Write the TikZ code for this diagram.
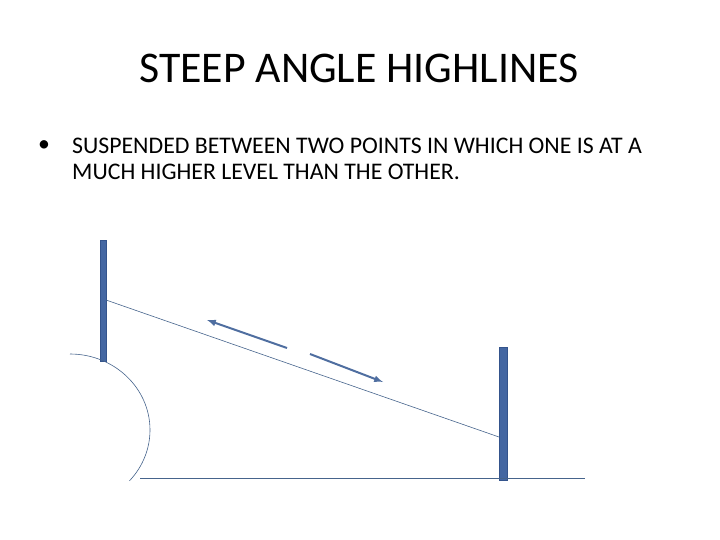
\documentclass[tikz,border=0pt]{standalone}
\usepackage{fontspec}
\setmainfont{Carlito}
\begin{document}
\begin{tikzpicture}[x=1pt,y=-1pt,
  pole/.style={fill={rgb,255:red,68;green,103;blue,162},draw={rgb,255:red,52;green,84;blue,140},line width=0.8pt},
  thin/.style={draw={rgb,255:red,70;green,100;blue,140},line width=0.6pt},
  arr/.style={draw={rgb,255:red,79;green,110;blue,160},line width=2pt,-latex},
  txt/.style={font=\fontsize{23.8}{28}\selectfont,anchor=west,inner sep=0pt}]
\useasboundingbox (0,0) rectangle (720,540);
\node (title) at (359,68) {\fontsize{43.8}{50}\selectfont STEEP ANGLE HIGHLINES};
\node[txt] (dot) at (38,146) {\textbullet};
\node[txt] (l1) at (72,146) {SUSPENDED BETWEEN TWO POINTS IN WHICH ONE IS AT A};
\node[txt] (l2) at (72,172) {MUCH HIGHER LEVEL THAN THE OTHER.};
\draw[pole] (100,240) rectangle (106,361);
\draw[pole] (499,347) rectangle (507,480);
\coordinate (a) at (106,300);
\coordinate (b) at (499,437);
\draw[thin] (a) -- (b);
\coordinate (g1) at (140,478);
\coordinate (g2) at (585,478);
\draw[thin] (g1) -- (g2);
\draw[thin] (70,354) arc[start angle=90,end angle=-42,x radius=80,y radius=-76];
\coordinate (p1) at (287,348); \coordinate (p2) at (207,320);
\coordinate (q1) at (310,354); \coordinate (q2) at (383,382);
\draw[arr] (p1) -- (p2);
\draw[arr] (q1) -- (q2);
\end{tikzpicture}
\end{document}
